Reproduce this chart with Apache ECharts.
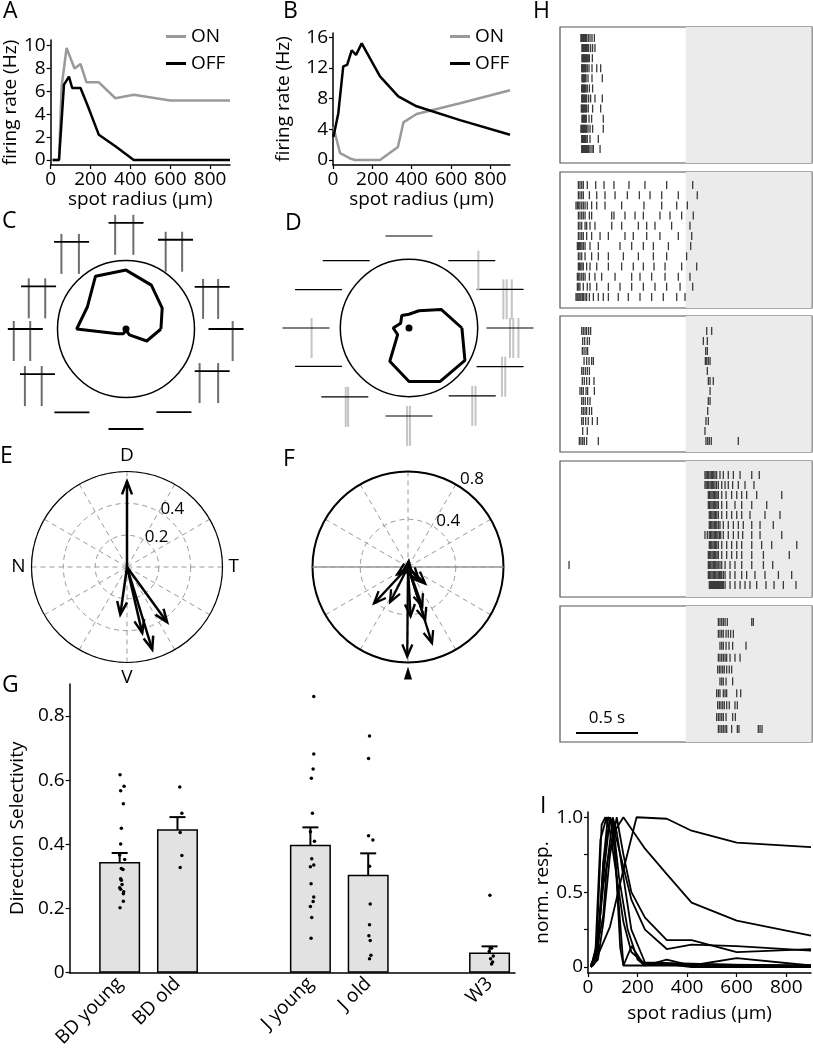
<!DOCTYPE html>
<html>
<head>
<meta charset="utf-8">
<script src="https://cdn.jsdelivr.net/npm/echarts@6/dist/echarts.min.js"></script>
<style>
html, body { margin: 0; padding: 0; background: #fff; }
#chart { width: 813px; height: 1050px; }
</style>
</head>
<body>
<div id="chart"></div>
<script>
var FONT = 'Open Sans';

// ---- A / B : firing rate vs spot radius ----
var radiusTicks = [0, 200, 400, 600, 800];
var onA = [[10, 0], [42, 0], [55, 6.4], [80, 9.8], [120, 8.0], [150, 8.4], [180, 6.8], [242, 6.8], [325, 5.4], [417, 5.7], [600, 5.2], [900, 5.2]];
var offA = [[10, 0], [42, 0], [67, 6.6], [92, 7.3], [108, 6.3], [150, 6.3], [187, 4.7], [242, 2.2], [325, 1.2], [417, 0], [600, 0], [900, 0]];
var ticksA = [0, 2, 4, 6, 8, 10];
var onB = [[2, 4.3], [36, 0.9], [87, 0.2], [112, 0], [239, 0], [330, 1.7], [358, 4.9], [425, 6.0], [646, 7.4], [900, 9.1]];
var offB = [[2, 3.0], [27, 6.1], [52, 12.2], [72, 12.4], [95, 14.3], [117, 13.7], [146, 15.2], [239, 10.9], [332, 8.3], [425, 7.0], [646, 5.2], [900, 3.3]];
var ticksB = [0, 4, 8, 12, 16];

// ---- C / D : direction tuning polygons and spike traces ----
var dirs = [0, 30, 60, 90, 120, 150, 180, 210, 240, 270, 300, 330];
var respC = [0.51, 0.61, 0.74, 0.86, 0.89, 0.65, 0.72, 0.14, 0.08, 0.02, 0.10, 0.35];
var respD = [0.77, 0.54, 0.29, 0.20, 0.21, 0.14, 0.23, 0.19, 0.56, 0.78, 0.90, 0.94];
// spike positions inside each trace (fraction of the trace window), one list per direction
var spikesC = [[0.69], [0.24, 0.67], [0.22, 0.69], [0.19, 0.71], [0.21, 0.71], [0.22, 0.69], [0.17, 0.64], [0.14, 0.62], [], [], [], [0.14, 0.67]];
var spikesD = [[0.50, 0.57, 0.68], [0.57, 0.64, 0.75], [0.64], [], [], [], [0.62], [], [0.52, 0.57], [0.46, 0.52], [0.50, 0.57], [0.54, 0.61]];

// ---- E / F : preferred direction vectors [DSI, angle] ----
var dirLabelsE = {0: 'T', 90: 'D', 180: 'N', 270: 'V'};
var arrowsE = [[0.538, 90], [0.302, 262], [0.425, 283], [0.542, 287], [0.429, 306]];
var arrowsF = [[0.749, 269.5], [0.668, 287.5], [0.465, 288], [0.35, 290], [0.413, 273], [0.417, 227], [0.331, 243], [0.2, 316], [0.14, 310], [0.11, 215], [0.05, 83]];
var ringTicksE = [0.2, 0.4];
var ringTicksF = [0.4, 0.8];

// ---- G : direction selectivity ----
var groups = ['BD young', 'BD old', 'J young', 'J old', 'W3'];
var groupPos = [1, 2, 4.3, 5.3, 7.4];
var means = [0.345, 0.447, 0.399, 0.305, 0.063];
var sem = [0.028, 0.038, 0.054, 0.067, 0.019];
var dotsBDyoung = [0.617, 0.581, 0.567, 0.527, 0.45, 0.401, 0.367, 0.353, 0.325, 0.322, 0.293, 0.288, 0.275, 0.265, 0.26, 0.252, 0.246, 0.223, 0.202];
var jitBDyoung = [0.006, 0.076, 0.017, 0.064, 0.029, 0.017, 0, 0.087, 0.029, 0.058, 0.017, 0.029, 0.041, 0, 0.017, 0.07, 0.064, 0.064, 0.006];
var dotsBDold = [0.579, 0.497, 0.437, 0.365, 0.328];
var jitBDold = [0.04, 0.076, 0.047, 0.076, 0.047];
var dotsJyoung = [0.861, 0.682, 0.635, 0.606, 0.497, 0.439, 0.41, 0.355, 0.336, 0.33, 0.277, 0.236, 0.222, 0.206, 0.172, 0.107];
var jitJyoung = [0.058, 0.058, 0.047, 0.017, 0.035, 0, 0.07, 0.023, 0.058, 0, 0.012, 0.058, 0.047, 0, 0.023, 0.012];
var dotsJold = [0.738, 0.668, 0.427, 0.414, 0.332, 0.214, 0.149, 0.115, 0.1, 0.054, 0.043];
var jitJold = [0.023, 0.006, 0.006, 0.081, 0.023, 0.035, 0.023, 0.012, 0.035, 0.047, 0.023];
var dotsW3 = [0.241, 0.076, 0.066, 0.052, 0.043, 0.033, 0.027];
var jitW3 = [0.006, 0.035, -0.006, 0.064, 0.017, 0.052, 0.035];
var ticksG = [0, 0.2, 0.4, 0.6, 0.8];

// ---- H : spike rasters, spike times in ms per trial ----
var rasterH1 = [
  [169, 173, 177, 181, 185, 190, 196, 201, 206, 215, 228, 242, 258, 277],
  [177, 181, 185, 189, 194, 199, 204, 210, 215, 220, 231, 247, 263, 282],
  [177, 181, 185, 190, 194, 199, 204, 210, 215, 220, 228, 237, 261],
  [175, 179, 183, 188, 193, 199, 204, 210, 220, 234, 258, 296, 328],
  [177, 181, 185, 190, 194, 199, 204, 210, 226, 258, 341],
  [175, 179, 183, 188, 193, 199, 204, 210, 220, 237, 263],
  [175, 179, 183, 188, 193, 199, 204, 210, 215, 231, 247, 282, 341],
  [172, 177, 181, 185, 190, 196, 201, 207, 215, 228, 263, 328],
  [177, 181, 185, 190, 196, 201, 207, 212, 234, 255, 349],
  [169, 173, 177, 181, 185, 190, 194, 199, 204, 210, 215, 226, 242, 263, 349],
  [175, 179, 183, 188, 193, 199, 204, 210, 220, 242, 309],
  [175, 179, 183, 188, 193, 199, 204, 210, 215, 220, 226, 231, 242, 258, 269, 323]
];
var rasterH2 = [
  [148, 161, 175, 188, 220, 288, 355, 435, 556, 685, 860, 1070],
  [148, 161, 175, 188, 237, 296, 363, 444, 543, 640, 726, 820, 954, 1107],
  [129, 140, 151, 161, 175, 188, 202, 220, 255, 296, 363, 497, 677, 820, 941, 1027],
  [148, 161, 175, 188, 202, 237, 255, 417, 435, 524, 605, 672, 806, 887, 981, 1075],
  [148, 161, 175, 202, 215, 242, 282, 417, 497, 632, 699, 766, 900, 1048],
  [148, 161, 175, 188, 215, 255, 323, 390, 524, 591, 699, 806, 954, 1062],
  [140, 148, 156, 167, 177, 188, 202, 242, 309, 484, 578, 672, 753, 874, 1054],
  [148, 161, 175, 202, 255, 309, 390, 511, 632, 753, 860, 1021],
  [148, 156, 167, 177, 188, 215, 242, 296, 390, 497, 591, 672, 758, 847, 981, 1102],
  [140, 151, 161, 175, 188, 202, 237, 282, 336, 444, 578, 645, 739, 847, 954, 1048],
  [140, 151, 161, 188, 220, 242, 296, 390, 484, 578, 672, 766, 860, 968, 1070],
  [129, 137, 145, 153, 161, 169, 180, 188, 202, 215, 237, 269, 309, 349, 390, 470, 551, 645, 739, 833, 941, 1008]
];
var rasterH3 = [
  [175, 188, 202, 215, 231, 247, 1183, 1223],
  [183, 199, 220, 237, 1156, 1188],
  [180, 194, 210, 223, 1175, 1188],
  [194, 215, 234, 255, 269, 1172, 1183, 1196, 1210],
  [175, 188, 204, 220, 237, 1188],
  [180, 196, 215, 237, 274, 1196, 1210, 1236],
  [161, 175, 188, 210, 223, 277, 1210],
  [175, 188, 204, 223, 242, 1196, 1210],
  [175, 188, 202, 215, 237, 255, 1191],
  [175, 188, 207, 228, 261, 301, 1177, 1196],
  [183, 220, 1169],
  [156, 169, 183, 196, 215, 309, 1177, 1191, 1204, 1220, 1438]
];
var rasterH4 = [
  [1169, 1179, 1189, 1199, 1210, 1220, 1230, 1240, 1250, 1263, 1290, 1317, 1357, 1398, 1452, 1546, 1607],
  [1169, 1179, 1189, 1199, 1210, 1220, 1230, 1240, 1250, 1263, 1277, 1304, 1331, 1357, 1392, 1438, 1492, 1564],
  [1196, 1206, 1216, 1226, 1236, 1246, 1256, 1266, 1277, 1304, 1339, 1384, 1425, 1465, 1505, 1586, 1788],
  [1196, 1206, 1216, 1226, 1236, 1246, 1256, 1266, 1277, 1304, 1344, 1411, 1465, 1546, 1667],
  [1204, 1214, 1224, 1234, 1244, 1254, 1264, 1277, 1304, 1344, 1384, 1425, 1465, 1532, 1653, 1774],
  [1204, 1214, 1224, 1234, 1244, 1254, 1264, 1277, 1290, 1317, 1357, 1398, 1438, 1478, 1546, 1613, 1720],
  [1169, 1188, 1204, 1214, 1224, 1234, 1244, 1254, 1264, 1274, 1286, 1296, 1317, 1357, 1398, 1438, 1473, 1546, 1613, 1788],
  [1204, 1214, 1224, 1234, 1244, 1254, 1264, 1277, 1304, 1344, 1384, 1425, 1465, 1546, 1626, 1707, 1909],
  [1196, 1206, 1216, 1226, 1236, 1246, 1256, 1266, 1277, 1304, 1344, 1384, 1425, 1465, 1546, 1640, 1849],
  [73, 1196, 1206, 1216, 1226, 1236, 1246, 1256, 1266, 1276, 1290, 1304, 1331, 1371, 1411, 1465, 1546, 1640, 1715],
  [1196, 1206, 1216, 1226, 1236, 1246, 1256, 1266, 1276, 1286, 1296, 1304, 1317, 1331, 1371, 1411, 1465, 1505, 1572, 1653, 1761, 1868],
  [1204, 1210, 1216, 1222, 1228, 1234, 1240, 1246, 1252, 1258, 1264, 1270, 1277, 1284, 1290, 1296, 1304, 1310, 1317, 1331, 1371, 1411, 1452, 1492, 1532, 1586, 1661, 1726, 1801, 1903]
];
var rasterH5 = [
  [1277, 1290, 1304, 1317, 1331, 1349, 1546, 1559],
  [1277, 1290, 1304, 1317, 1339, 1357, 1376, 1398],
  [1290, 1304, 1317, 1339, 1363, 1392, 1500],
  [1277, 1290, 1304, 1317, 1331, 1344, 1371, 1411, 1452],
  [1271, 1285, 1298, 1312, 1325, 1344, 1365, 1384],
  [1290, 1304, 1317, 1339, 1392],
  [1263, 1277, 1290, 1317, 1331, 1344, 1425, 1457],
  [1271, 1285, 1298, 1312, 1325, 1344, 1365, 1411, 1430],
  [1263, 1277, 1290, 1304, 1317, 1339, 1392, 1414],
  [1277, 1290, 1304, 1317, 1331, 1344, 1384, 1430, 1443, 1599, 1613, 1629]
];
var spotOffStart = 1014;   // ms, start of shaded epoch
var trialEnd = 2032;       // ms

// ---- I : normalised size tuning of several cells ----
var curvesI = [
  [[12, 0.02], [40, 0.08], [89, 0.27], [143, 0.65], [196, 1.0], [318, 0.99], [418, 0.91], [600, 0.83], [900, 0.80]],
  [[12, 0.01], [35, 0.1], [62, 0.55], [89, 0.8], [116, 0.93], [143, 1.0], [230, 0.79], [318, 0.62], [418, 0.43], [600, 0.31], [900, 0.21]],
  [[12, 0], [40, 0.05], [62, 0.3], [89, 0.75], [116, 1.0], [143, 0.75], [175, 0.5], [230, 0.33], [318, 0.18], [418, 0.18], [600, 0.1], [900, 0.12]],
  [[12, 0], [35, 0.08], [62, 0.6], [89, 1.0], [116, 0.85], [175, 0.45], [230, 0.25], [318, 0.12], [418, 0.15], [600, 0.14], [900, 0.11]],
  [[12, 0], [30, 0.1], [50, 0.85], [75, 1.0], [100, 0.95], [125, 0.4], [143, 0.01], [176, 0.14], [223, 0.02], [318, 0.02], [418, 0], [900, 0]],
  [[12, 0.01], [40, 0.1], [62, 0.7], [89, 1.0], [110, 0.75], [130, 0.13], [143, 0.01], [230, 0.01], [318, 0.05], [418, 0.01], [600, 0.06], [900, 0.01]],
  [[12, 0], [35, 0.05], [62, 0.7], [80, 1.0], [100, 0.98], [125, 0.6], [160, 0.25], [200, 0.05], [230, 0.01], [900, 0.01]],
  [[12, 0], [35, 0.15], [55, 0.95], [70, 1.0], [89, 0.9], [116, 0.6], [143, 0.3], [175, 0.1], [230, 0.02], [900, 0.01]],
  [[12, 0], [25, 0.02], [62, 0.35], [75, 0.65], [100, 1.0], [116, 0.9], [143, 0.6], [175, 0.25], [230, 0.03], [900, 0]]
];
var ticksI = [0, 0.5, 1];
var minorTicksI = [0, 0.25, 0.5, 0.75, 1];

// ---- layout (pixels / polar radius units) ----
var tracePosC = [[1.46, 0], [1.40, 26], [1.49, 61], [1.55, 90], [1.50, 122], [1.42, 154], [1.47, 180], [1.45, 207], [1.45, 237], [1.46, 270], [1.40, 300], [1.40, 334]];
var tracePosD = [[1.47, 0], [1.44, 23], [1.34, 47], [1.34, 90], [1.34, 133], [1.43, 157], [1.50, 180], [1.43, 203], [1.37, 227], [1.28, 270], [1.35, 313], [1.44, 337]];
var hBoxes = [
  {top: 27, ymin: -0.09, ymax: 13.39},
  {top: 172, ymin: -0.28, ymax: 13.08},
  {top: 316, ymin: -0.5, ymax: 13.1},
  {top: 461, ymin: -0.4, ymax: 13.2},
  {top: 606, ymin: -0.345, ymax: 11.1}
];
var rasters = [rasterH1, rasterH2, rasterH3, rasterH4, rasterH5];

var chart = echarts.init(document.getElementById('chart'));

function fmt1(v) { return v === 0 ? '0' : v.toFixed(1); }

function valAxis(gi, min, max, labels, ticks, name, nameGap, formatter) {
  return {
    type: 'value', gridIndex: gi, min: min, max: max,
    name: name, nameLocation: 'middle', nameGap: nameGap,
    nameTextStyle: {color: '#000', fontSize: 19, fontFamily: FONT},
    axisLine: {show: true, onZero: false, lineStyle: {color: '#000', width: 1.5}},
    axisTick: {show: true, length: 4, customValues: ticks, lineStyle: {color: '#000', width: 1.2}},
    axisLabel: {color: '#000', fontSize: 19, fontFamily: FONT, margin: 5, customValues: labels, formatter: formatter},
    splitLine: {show: false}
  };
}

function rasterData(trials) {
  var pts = [];
  trials.forEach(function (row, i) {
    row.forEach(function (t) { pts.push([t, i + 1]); });
  });
  return pts;
}

function polyData(resp) {
  var d = dirs.map(function (a, i) { return [resp[i], a]; });
  d.push(d[0]);
  return d;
}

function traceRender(spikes, len, spikeColor, baseWidth, up, down) {
  return function (params, api) {
    var c = api.coord([api.value(0), api.value(1)]);
    var x0 = c[0] - len / 2;
    var kids = [];
    spikes[params.dataIndex].forEach(function (s) {
      var x = x0 + s * len;
      kids.push({type: 'line', shape: {x1: x, y1: c[1] - up, x2: x, y2: c[1] + down},
        style: {stroke: spikeColor, lineWidth: 2}});
    });
    kids.push({type: 'line', shape: {x1: x0, y1: c[1], x2: x0 + len, y2: c[1]},
      style: {stroke: '#000', lineWidth: baseWidth}});
    return {type: 'group', children: kids};
  };
}

function arrowRender(head, half, width) {
  return function (params, api) {
    var o = api.coord([0, 0]);
    var p = api.coord([api.value(0), api.value(1)]);
    var dx = p[0] - o[0], dy = p[1] - o[1];
    var L = Math.sqrt(dx * dx + dy * dy) || 1;
    var ux = dx / L, uy = dy / L;
    var b1 = [p[0] - ux * head - uy * half, p[1] - uy * head + ux * half];
    var b2 = [p[0] - ux * head + uy * half, p[1] - uy * head - ux * half];
    return {type: 'group', children: [
      {type: 'line', shape: {x1: o[0], y1: o[1], x2: p[0], y2: p[1]}, style: {stroke: '#000', lineWidth: width}},
      {type: 'polyline', shape: {points: [b1, p, b2]}, style: {stroke: '#000', fill: null, lineWidth: width}}
    ]};
  };
}

function ringLabelRender(pad) {
  return function (params, api) {
    var v = api.value(0);
    var o = api.coord([0, 0]);
    var p = api.coord([v, api.value(1)]);
    var dx = p[0] - o[0], dy = p[1] - o[1];
    var L = Math.sqrt(dx * dx + dy * dy) || 1;
    return {type: 'text', style: {
      text: String(v), x: p[0] + dx / L * pad, y: p[1] + dy / L * pad,
      align: 'center', verticalAlign: 'middle', textAlign: 'center', textVerticalAlign: 'middle',
      font: '17px "Open Sans"', fill: '#000'
    }};
  };
}

function plainAngle(pi, width) {
  return {polarIndex: pi, type: 'value', min: 0, max: 360, startAngle: 0, clockwise: false,
    axisLine: {lineStyle: {color: '#000', width: width}}, axisTick: {show: false},
    axisLabel: {show: false}, splitLine: {show: false}};
}
function hiddenRadius(pi, max) {
  return {polarIndex: pi, type: 'value', min: 0, max: max, axisLine: {show: false},
    axisTick: {show: false}, axisLabel: {show: false}, splitLine: {show: false}};
}
var dash = {color: '#9a9a9a', type: [5, 4], width: 1};

var grids = [
  {left: 50, top: 40, width: 180, height: 125},
  {left: 333, top: 33, width: 177, height: 132},
  {left: 56, top: 684, width: 459, height: 300},
  {left: 588, top: 812, width: 223, height: 161}
];
hBoxes.forEach(function (b) {
  grids.push({left: 560, top: b.top, width: 252, height: 136, show: true,
    borderColor: '#555', borderWidth: 1.2, backgroundColor: '#fff'});
});

var xAxes = [
  valAxis(0, 0, 900, radiusTicks, radiusTicks, 'spot radius (µm)', 21),
  valAxis(1, 0, 900, radiusTicks, radiusTicks, 'spot radius (µm)', 21),
  {type: 'value', gridIndex: 2, min: 0.134, max: 7.84,
    axisLine: {show: true, onZero: false, lineStyle: {color: '#000', width: 1.5}},
    axisTick: {show: false}, splitLine: {show: false},
    axisLabel: {color: '#000', fontSize: 19, fontFamily: FONT, rotate: 45, margin: 8,
      customValues: groupPos,
      formatter: function (v) {
        for (var i = 0; i < groupPos.length; i++) if (Math.abs(groupPos[i] - v) < 1e-6) return groups[i];
        return '';
      }}},
  valAxis(3, 0, 900, radiusTicks, radiusTicks, 'spot radius (µm)', 31)
];
var yAxes = [
  valAxis(0, -0.44, 10.5, ticksA, ticksA, 'firing rate (Hz)', 28),
  valAxis(1, -0.65, 16.55, ticksB, ticksB, 'firing rate (Hz)', 40),
  valAxis(2, 0, 0.9, ticksG, ticksG, 'Direction Selectivity', 36, fmt1),
  valAxis(3, -0.04, 1.035, ticksI, minorTicksI, 'norm. resp.', 32, fmt1)
];
hBoxes.forEach(function (b, k) {
  xAxes.push({type: 'value', gridIndex: 4 + k, min: 0, max: trialEnd, show: false});
  yAxes.push({type: 'value', gridIndex: 4 + k, min: b.ymin, max: b.ymax, inverse: true, show: false});
});

var series = [
  {name: 'ON', type: 'line', xAxisIndex: 0, yAxisIndex: 0, data: onA, symbol: 'none', color: '#9a9a9a', lineStyle: {color: '#9a9a9a', width: 2.5}},
  {name: 'OFF', type: 'line', xAxisIndex: 0, yAxisIndex: 0, data: offA, symbol: 'none', color: '#000', lineStyle: {color: '#000', width: 2.5}},
  {name: 'ON', type: 'line', xAxisIndex: 1, yAxisIndex: 1, data: onB, symbol: 'none', color: '#9a9a9a', lineStyle: {color: '#9a9a9a', width: 2.5}},
  {name: 'OFF', type: 'line', xAxisIndex: 1, yAxisIndex: 1, data: offB, symbol: 'none', color: '#000', lineStyle: {color: '#000', width: 2.5}},

  // C
  {type: 'custom', coordinateSystem: 'polar', polarIndex: 0, data: tracePosC,
    renderItem: traceRender(spikesC, 35, '#6e6e6e', 1.8, 8, 32)},
  {type: 'line', coordinateSystem: 'polar', polarIndex: 0, data: polyData(respC), symbol: 'none',
    lineStyle: {color: '#000', width: 3}},
  {type: 'scatter', coordinateSystem: 'polar', polarIndex: 0, data: [[0, 0]], symbolSize: 7, itemStyle: {color: '#000', opacity: 1}},
  // D
  {type: 'custom', coordinateSystem: 'polar', polarIndex: 1, data: tracePosD,
    renderItem: traceRender(spikesD, 47, '#c4c4c4', 1.1, 10, 30)},
  {type: 'line', coordinateSystem: 'polar', polarIndex: 1, data: polyData(respD), symbol: 'none',
    lineStyle: {color: '#000', width: 3}},
  {type: 'scatter', coordinateSystem: 'polar', polarIndex: 1, data: [[0, 0]], symbolSize: 7, itemStyle: {color: '#000', opacity: 1}},
  // E
  {type: 'custom', coordinateSystem: 'polar', polarIndex: 2, data: arrowsE, renderItem: arrowRender(13, 5, 2.5)},
  {type: 'custom', coordinateSystem: 'polar', polarIndex: 2, data: [[ringTicksE[0], 45], [ringTicksE[1], 52]],
    renderItem: ringLabelRender(10)},
  // F
  {type: 'custom', coordinateSystem: 'polar', polarIndex: 3, data: [[0.8, 0]],
    renderItem: function (params, api) {
      var r = api.value(0);
      var a = api.coord([r, 0]), b = api.coord([r, 180]), d = api.coord([r, 270]);
      return {type: 'group', children: [
        {type: 'line', shape: {x1: a[0], y1: a[1], x2: b[0], y2: b[1]}, style: {stroke: '#9a9a9a', lineWidth: 1.3}},
        {type: 'polygon', shape: {points: [[d[0], d[1] + 4], [d[0] - 4, d[1] + 17], [d[0] + 4, d[1] + 17]]}, style: {fill: '#000'}}
      ]};
    }},
  {type: 'custom', coordinateSystem: 'polar', polarIndex: 3, data: arrowsF, renderItem: arrowRender(12, 5, 2.3)},
  {type: 'custom', coordinateSystem: 'polar', polarIndex: 3, data: [[ringTicksF[0], 49], [ringTicksF[1], 54]],
    renderItem: ringLabelRender(13.5)},

  // G
  {type: 'bar', xAxisIndex: 2, yAxisIndex: 2, barWidth: 41,
    data: groupPos.map(function (p, i) { return [p, means[i]]; }),
    itemStyle: {color: '#e2e2e2', borderColor: '#000', borderWidth: 1.5}},
  {type: 'scatter', xAxisIndex: 2, yAxisIndex: 2, symbolSize: 3.5, itemStyle: {color: '#000', opacity: 1},
    data: (function () {
      var vals = [dotsBDyoung, dotsBDold, dotsJyoung, dotsJold, dotsW3];
      var jit = [jitBDyoung, jitBDold, jitJyoung, jitJold, jitW3];
      var out = [];
      vals.forEach(function (vs, g) { vs.forEach(function (v, i) { out.push([groupPos[g] + jit[g][i], v]); }); });
      return out;
    })()},
  {type: 'custom', xAxisIndex: 2, yAxisIndex: 2,
    data: groupPos.map(function (p, i) { return [p, means[i], sem[i]]; }),
    renderItem: function (params, api) {
      var x = api.value(0), m = api.value(1), e = api.value(2);
      var hi = api.coord([x, m + e]), lo = api.coord([x, m - e]);
      var st = {stroke: '#000', lineWidth: 2};
      return {type: 'group', children: [
        {type: 'line', shape: {x1: hi[0], y1: hi[1], x2: lo[0], y2: lo[1]}, style: st},
        {type: 'line', shape: {x1: hi[0] - 8, y1: hi[1], x2: hi[0] + 8, y2: hi[1]}, style: st},
        {type: 'line', shape: {x1: lo[0] - 8, y1: lo[1], x2: lo[0] + 8, y2: lo[1]}, style: st}
      ]};
    }}
];

// H rasters
rasters.forEach(function (trials, k) {
  series.push({type: 'scatter', xAxisIndex: 4 + k, yAxisIndex: 4 + k, data: rasterData(trials),
    symbol: 'rect', symbolSize: [1.3, 8], itemStyle: {color: '#3a3a3a', opacity: 1},
    markArea: {silent: true, itemStyle: {color: '#ebebeb'}, data: [[{xAxis: spotOffStart}, {xAxis: trialEnd - 4}]]}});
});

// I curves
curvesI.forEach(function (c) {
  series.push({type: 'line', xAxisIndex: 3, yAxisIndex: 3, data: c, symbol: 'none',
    lineStyle: {color: '#000', width: 1.8}});
});

function letter(t, x, y) {
  return {type: 'text', left: x, top: y, style: {text: t, font: '23px "Open Sans"', fill: '#000'}};
}

var option = {
  animation: false,
  backgroundColor: '#fff',
  textStyle: {fontFamily: FONT, color: '#000'},
  grid: grids,
  xAxis: xAxes,
  yAxis: yAxes,
  polar: [
    {center: [126, 329], radius: 68.5},
    {center: [409, 328], radius: 68.7},
    {center: [127, 567], radius: 95.5},
    {center: [408, 567], radius: 95.5}
  ],
  angleAxis: [
    plainAngle(0, 1.5),
    plainAngle(1, 1.5),
    {polarIndex: 2, type: 'value', min: 0, max: 360, interval: 30, startAngle: 0, clockwise: false,
      axisLine: {lineStyle: {color: '#000', width: 1.2}}, axisTick: {show: false},
      axisLabel: {color: '#000', fontSize: 19, fontFamily: FONT, margin: 6,
        formatter: function (v) { return dirLabelsE[v] || ''; }},
      splitLine: {show: true, lineStyle: dash}},
    {polarIndex: 3, type: 'value', min: 0, max: 360, interval: 30, startAngle: 0, clockwise: false,
      axisLine: {lineStyle: {color: '#000', width: 2}}, axisTick: {show: false},
      axisLabel: {show: false}, splitLine: {show: true, lineStyle: dash}}
  ],
  radiusAxis: [
    hiddenRadius(0, 1),
    hiddenRadius(1, 1),
    {polarIndex: 2, type: 'value', min: 0, max: 0.6, interval: 0.2, axisLine: {show: false},
      axisTick: {show: false}, axisLabel: {show: false}, splitLine: {show: true, lineStyle: dash}},
    {polarIndex: 3, type: 'value', min: 0, max: 0.8, interval: 0.4, axisLine: {show: false},
      axisTick: {show: false}, axisLabel: {show: false}, splitLine: {show: true, lineStyle: dash}}
  ],
  legend: [
    {left: 161, top: 22, orient: 'vertical', data: ['ON', 'OFF'], icon: 'rect', itemWidth: 20, itemHeight: 3,
      itemGap: 8, selectedMode: false, textStyle: {fontSize: 19, color: '#000', fontFamily: FONT}},
    {left: 445, top: 22, orient: 'vertical', data: ['ON', 'OFF'], icon: 'rect', itemWidth: 20, itemHeight: 3,
      itemGap: 8, selectedMode: false, textStyle: {fontSize: 19, color: '#000', fontFamily: FONT}}
  ],
  series: series,
  graphic: [
    letter('A', 3, 0), letter('B', 283, 0), letter('C', 2, 210), letter('D', 285, 212),
    letter('E', 0, 445), letter('F', 283, 448), letter('G', 2, 674), letter('H', 533, 0), letter('I', 540, 795),
    {type: 'line', shape: {x1: 576, y1: 733, x2: 638, y2: 733}, style: {stroke: '#000', lineWidth: 2}},
    {type: 'text', x: 607, y: 718, style: {text: '0.5 s', font: '17px "Open Sans"', fill: '#000',
      align: 'center', verticalAlign: 'middle', textAlign: 'center', textVerticalAlign: 'middle'}}
  ]
};
chart.setOption(option);
</script>
</body>
</html>
